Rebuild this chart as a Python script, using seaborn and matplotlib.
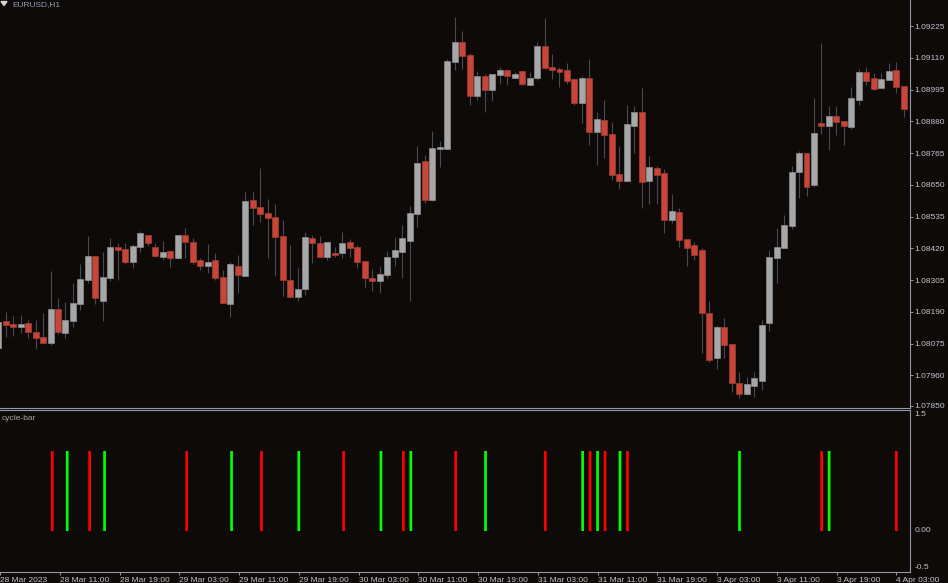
import numpy as np
import pandas as pd
import matplotlib
matplotlib.use("Agg")
import matplotlib.pyplot as plt
from matplotlib.patches import Polygon
import seaborn as sns

# ---------------- data ----------------
bar_index = list(range(-8, 114))   # hourly bars, 0 = 28 Mar 11:00

open_ = [1.08060, 1.08157, 1.08146, 1.08134, 1.08150, 1.08116, 1.08099, 1.08076,
         1.08200, 1.08114, 1.08158, 1.08219, 1.08305, 1.08391, 1.08228, 1.08314,
         1.08425, 1.08418, 1.08372, 1.08425, 1.08467, 1.08424, 1.08388, 1.08410,
         1.08384, 1.08467, 1.08444, 1.08377, 1.08357, 1.08377, 1.08316, 1.08219,
         1.08356, 1.08319, 1.08596, 1.08569, 1.08547, 1.08532, 1.08465, 1.08307,
         1.08245, 1.08273, 1.08457, 1.08438, 1.08388, 1.08404, 1.08402, 1.08442,
         1.08425, 1.08374, 1.08314, 1.08301, 1.08324, 1.08388, 1.08408, 1.08448,
         1.08543, 1.08736, 1.08595, 1.08781, 1.08781, 1.09095, 1.09166, 1.09121,
         1.08973, 1.09044, 1.08993, 1.09048, 1.09064, 1.09037, 1.09061, 1.09012,
         1.09037, 1.09153, 1.09078, 1.09068, 1.09064, 1.09032, 1.08945, 1.09036,
         1.08841, 1.08885, 1.08834, 1.08688, 1.08665, 1.08864, 1.08913, 1.08665,
         1.08712, 1.08692, 1.08523, 1.08551, 1.08455, 1.08431, 1.08414, 1.08185,
         1.08022, 1.08136, 1.08073, 1.07934, 1.07893, 1.07923, 1.07941, 1.08149,
         1.08384, 1.08422, 1.08502, 1.08695, 1.08764, 1.08649, 1.08874, 1.08864,
         1.08899, 1.08882, 1.08860, 1.08958, 1.09058, 1.09037, 1.08999, 1.09029,
         1.09064, 1.09008]
high = [1.08168, 1.08191, 1.08175, 1.08179, 1.08161, 1.08161, 1.08185, 1.08338,
        1.08239, 1.08225, 1.08294, 1.08363, 1.08466, 1.08391, 1.08408, 1.08459,
        1.08439, 1.08439, 1.08435, 1.08482, 1.08467, 1.08438, 1.08445, 1.08414,
        1.08467, 1.08493, 1.08456, 1.08386, 1.08435, 1.08402, 1.08342, 1.08372,
        1.08396, 1.08623, 1.08623, 1.08711, 1.08597, 1.08581, 1.08522, 1.08432,
        1.08350, 1.08478, 1.08468, 1.08465, 1.08442, 1.08424, 1.08479, 1.08453,
        1.08432, 1.08374, 1.08344, 1.08356, 1.08412, 1.08461, 1.08503, 1.08573,
        1.08790, 1.08757, 1.08845, 1.08809, 1.09104, 1.09259, 1.09207, 1.09126,
        1.09062, 1.09051, 1.09051, 1.09075, 1.09070, 1.09059, 1.09063, 1.09058,
        1.09166, 1.09253, 1.09122, 1.09075, 1.09092, 1.09036, 1.09045, 1.09104,
        1.08915, 1.08957, 1.08878, 1.08790, 1.08939, 1.08935, 1.09000, 1.08754,
        1.08718, 1.08708, 1.08617, 1.08565, 1.08455, 1.08442, 1.08421, 1.08230,
        1.08143, 1.08169, 1.08073, 1.07973, 1.07955, 1.07973, 1.08161, 1.08414,
        1.08493, 1.08541, 1.08718, 1.08772, 1.08764, 1.08963, 1.09162, 1.08935,
        1.08935, 1.08882, 1.09003, 1.09070, 1.09078, 1.09054, 1.09054, 1.09092,
        1.09095, 1.09008]
low = [1.08052, 1.08098, 1.08104, 1.08112, 1.08094, 1.08057, 1.08076, 1.08070,
       1.08110, 1.08096, 1.08136, 1.08197, 1.08294, 1.08219, 1.08158, 1.08302,
       1.08305, 1.08362, 1.08350, 1.08408, 1.08428, 1.08388, 1.08378, 1.08354,
       1.08381, 1.08386, 1.08363, 1.08341, 1.08330, 1.08305, 1.08221, 1.08173,
       1.08259, 1.08319, 1.08504, 1.08516, 1.08384, 1.08320, 1.08248, 1.08245,
       1.08229, 1.08252, 1.08366, 1.08388, 1.08378, 1.08388, 1.08384, 1.08390,
       1.08350, 1.08281, 1.08267, 1.08259, 1.08314, 1.08357, 1.08314, 1.08229,
       1.08498, 1.08583, 1.08590, 1.08716, 1.08781, 1.09066, 1.09069, 1.08939,
       1.08957, 1.08915, 1.08954, 1.09015, 1.09012, 1.09037, 1.09012, 1.09010,
       1.09029, 1.09069, 1.09033, 1.09005, 1.09015, 1.08938, 1.08874, 1.08794,
       1.08723, 1.08746, 1.08667, 1.08635, 1.08665, 1.08764, 1.08567, 1.08581,
       1.08579, 1.08474, 1.08511, 1.08424, 1.08357, 1.08378, 1.08042, 1.08010,
       1.07982, 1.08022, 1.07901, 1.07877, 1.07890, 1.07883, 1.07907, 1.08122,
       1.08294, 1.08422, 1.08489, 1.08601, 1.08611, 1.08641, 1.08834, 1.08776,
       1.08830, 1.08794, 1.08852, 1.08939, 1.09011, 1.08993, 1.08999, 1.09029,
       1.08983, 1.08894]
close = [1.08154, 1.08144, 1.08134, 1.08146, 1.08118, 1.08096, 1.08076, 1.08200,
         1.08116, 1.08161, 1.08221, 1.08309, 1.08391, 1.08239, 1.08316, 1.08425,
         1.08415, 1.08372, 1.08427, 1.08474, 1.08438, 1.08391, 1.08407, 1.08384,
         1.08467, 1.08442, 1.08372, 1.08357, 1.08370, 1.08314, 1.08221, 1.08362,
         1.08324, 1.08592, 1.08567, 1.08543, 1.08531, 1.08462, 1.08307, 1.08245,
         1.08273, 1.08462, 1.08438, 1.08388, 1.08442, 1.08397, 1.08438, 1.08422,
         1.08372, 1.08314, 1.08301, 1.08326, 1.08388, 1.08414, 1.08459, 1.08547,
         1.08729, 1.08595, 1.08783, 1.08788, 1.09098, 1.09166, 1.09117, 1.08973,
         1.09044, 1.08993, 1.09051, 1.09064, 1.09044, 1.09050, 1.09016, 1.09037,
         1.09153, 1.09074, 1.09067, 1.09059, 1.09027, 1.08946, 1.09036, 1.08841,
         1.08888, 1.08830, 1.08686, 1.08665, 1.08869, 1.08913, 1.08661, 1.08716,
         1.08686, 1.08523, 1.08554, 1.08451, 1.08421, 1.08397, 1.08185, 1.08016,
         1.08134, 1.08070, 1.07932, 1.07893, 1.07928, 1.07952, 1.08143, 1.08388,
         1.08424, 1.08504, 1.08697, 1.08764, 1.08643, 1.08838, 1.08864, 1.08899,
         1.08878, 1.08864, 1.08963, 1.09058, 1.09025, 1.08997, 1.09033, 1.09061,
         1.09003, 1.08924]

price_ticks = [1.09225, 1.09110, 1.08995, 1.08880, 1.08765, 1.08650, 1.08535,
               1.08420, 1.08305, 1.08190, 1.08075, 1.07960, 1.07850]
price_tick_labels = ["1.09225", "1.09110", "1.08995", "1.08880", "1.08765",
                     "1.08650", "1.08535", "1.08420", "1.08305", "1.08190",
                     "1.08075", "1.07960", "1.07850"]

time_tick_index = [-8, 0, 8, 16, 24, 32, 40, 48, 56, 64, 72, 80, 88, 96, 104, 112]
time_tick_labels = ["28 Mar 2023", "28 Mar 11:00", "28 Mar 19:00", "29 Mar 03:00",
                    "29 Mar 11:00", "29 Mar 19:00", "30 Mar 03:00", "30 Mar 11:00",
                    "30 Mar 19:00", "31 Mar 03:00", "31 Mar 11:00", "31 Mar 19:00",
                    "3 Apr 03:00", "3 Apr 11:00", "3 Apr 19:00", "4 Apr 03:00"]

cycle_index = [-1, 1, 4, 6, 17, 23, 27, 32, 38, 43, 46, 47, 53, 57, 65, 70, 71,
               72, 73, 75, 76, 91, 102, 103, 112]
cycle_signal = ["down", "up", "down", "up", "down", "up", "down", "up", "down",
                "up", "down", "up", "down", "up", "down", "up", "down", "up",
                "down", "up", "down", "up", "down", "up", "down"]
cycle_value = [1, 1, 1, 1, 1, 1, 1, 1, 1, 1, 1, 1, 1, 1, 1, 1, 1, 1, 1, 1, 1,
               1, 1, 1, 1]

indicator_ticks = [1.5, 0.0, -0.5]
indicator_tick_labels = ["1.5", "0.00", "-0.5"]

# ---------------- style ----------------
BG = "#0d0a08"
AXC = "#9698aa"
TXT = "#c2c5cf"
RED = "#c6473a"
GRAY = "#a6a7a9"
WICK = "#474a53"

sns.set_style("ticks", rc={"axes.facecolor": BG, "figure.facecolor": BG,
                           "axes.grid": False, "axes.edgecolor": AXC})
plt.rcParams["font.family"] = ["Liberation Sans", "DejaVu Sans"]

W, H = 948, 583
fig = plt.figure(figsize=(W / 100, H / 100), dpi=100, facecolor=BG)
ax = fig.add_axes([0, 1 - 408 / H, 910 / W, 408 / H])
ax2 = fig.add_axes([0, 1 - 572 / H, 910 / W, 162 / H])

x_left = -58 / 7.485
x_right = (910 - 58) / 7.485

# ---------------- candles ----------------
df = pd.DataFrame({"idx": bar_index, "open": open_, "high": high,
                   "low": low, "close": close})
up = df["close"] >= df["open"]
body_colors = np.where(up, GRAY, RED)
edge_colors = np.where(up, "#8d8e91", "#a63b30")
ax.vlines(df["idx"], df["low"], df["high"], color=WICK, lw=0.8, zorder=2)
body_bottom = np.minimum(df["open"], df["close"])
body_height = np.maximum((df["close"] - df["open"]).abs(), 0.00003)
ax.bar(df["idx"], body_height, bottom=body_bottom, width=0.8,
       color=body_colors, edgecolor=edge_colors, linewidth=0.5, zorder=3)

ax.set_xlim(x_left, x_right)
ax.set_ylim(1.078417, 1.093192)
ax.set_xticks([])
ax.yaxis.tick_right()
ax.set_yticks(price_ticks)
ax.set_yticklabels(price_tick_labels)
ax.tick_params(axis="y", colors=AXC, labelcolor=TXT, labelsize=6,
               length=2.2, width=0.7, pad=1.0, direction="out")
for s in ["left", "top"]:
    ax.spines[s].set_visible(False)
for s in ["right", "bottom"]:
    ax.spines[s].set_color(AXC)
    ax.spines[s].set_linewidth(0.8)
ax.set_facecolor(BG)

# ---------------- cycle-bar indicator ----------------
cyc = pd.DataFrame({"idx": cycle_index, "value": cycle_value,
                    "signal": cycle_signal})
sns.barplot(data=cyc, x="idx", y="value", hue="signal",
            palette={"up": "#00ff00", "down": "#ff0000"},
            native_scale=True, width=0.36, dodge=False, legend=False,
            errorbar=None, linewidth=0, saturation=1, ax=ax2)
for p in ax2.patches:
    p.set_snap(False)
ax2.set_xlabel("")
ax2.set_ylabel("")
ax2.set_xlim(x_left, x_right)
ax2.set_ylim(-0.5125, 1.5125)
ax2.yaxis.tick_right()
ax2.set_yticks(indicator_ticks)
ax2.set_yticklabels(indicator_tick_labels)
ax2.tick_params(axis="y", colors=AXC, labelcolor=TXT, labelsize=6,
                length=0, pad=3.0)
for t, va in zip(ax2.yaxis.get_major_ticks(), ["top", "center", "bottom"]):
    t.label2.set_va(va)
ax2.set_xticks(time_tick_index)
ax2.set_xticklabels(time_tick_labels)
ax2.tick_params(axis="x", colors=AXC, labelcolor=TXT, labelsize=6,
                length=2.2, width=0.7, pad=1.5, direction="out")
for lab in ax2.get_xticklabels():
    lab.set_ha("left")
ax2.spines["left"].set_visible(False)
for s in ["right", "bottom", "top"]:
    ax2.spines[s].set_color(AXC)
    ax2.spines[s].set_linewidth(0.8)
ax2.set_facecolor(BG)

# ---------------- labels ----------------
fig.add_artist(Polygon([(1 / W, 1 - 1.5 / H), (7 / W, 1 - 1.5 / H),
                        (4 / W, 1 - 5.5 / H)], closed=True,
                       transform=fig.transFigure, color="#d8d8d8"))
fig.text(12 / W, 1 - 6.5 / H, "EURUSD,H1", ha="left", va="baseline",
         fontsize=6, color="#8f9cb8")
fig.text(2 / W, 1 - 419 / H, "cycle-bar", ha="left", va="center",
         fontsize=6, color="#a8a8a8")

fig.savefig("out.png", dpi=100, facecolor=BG)
